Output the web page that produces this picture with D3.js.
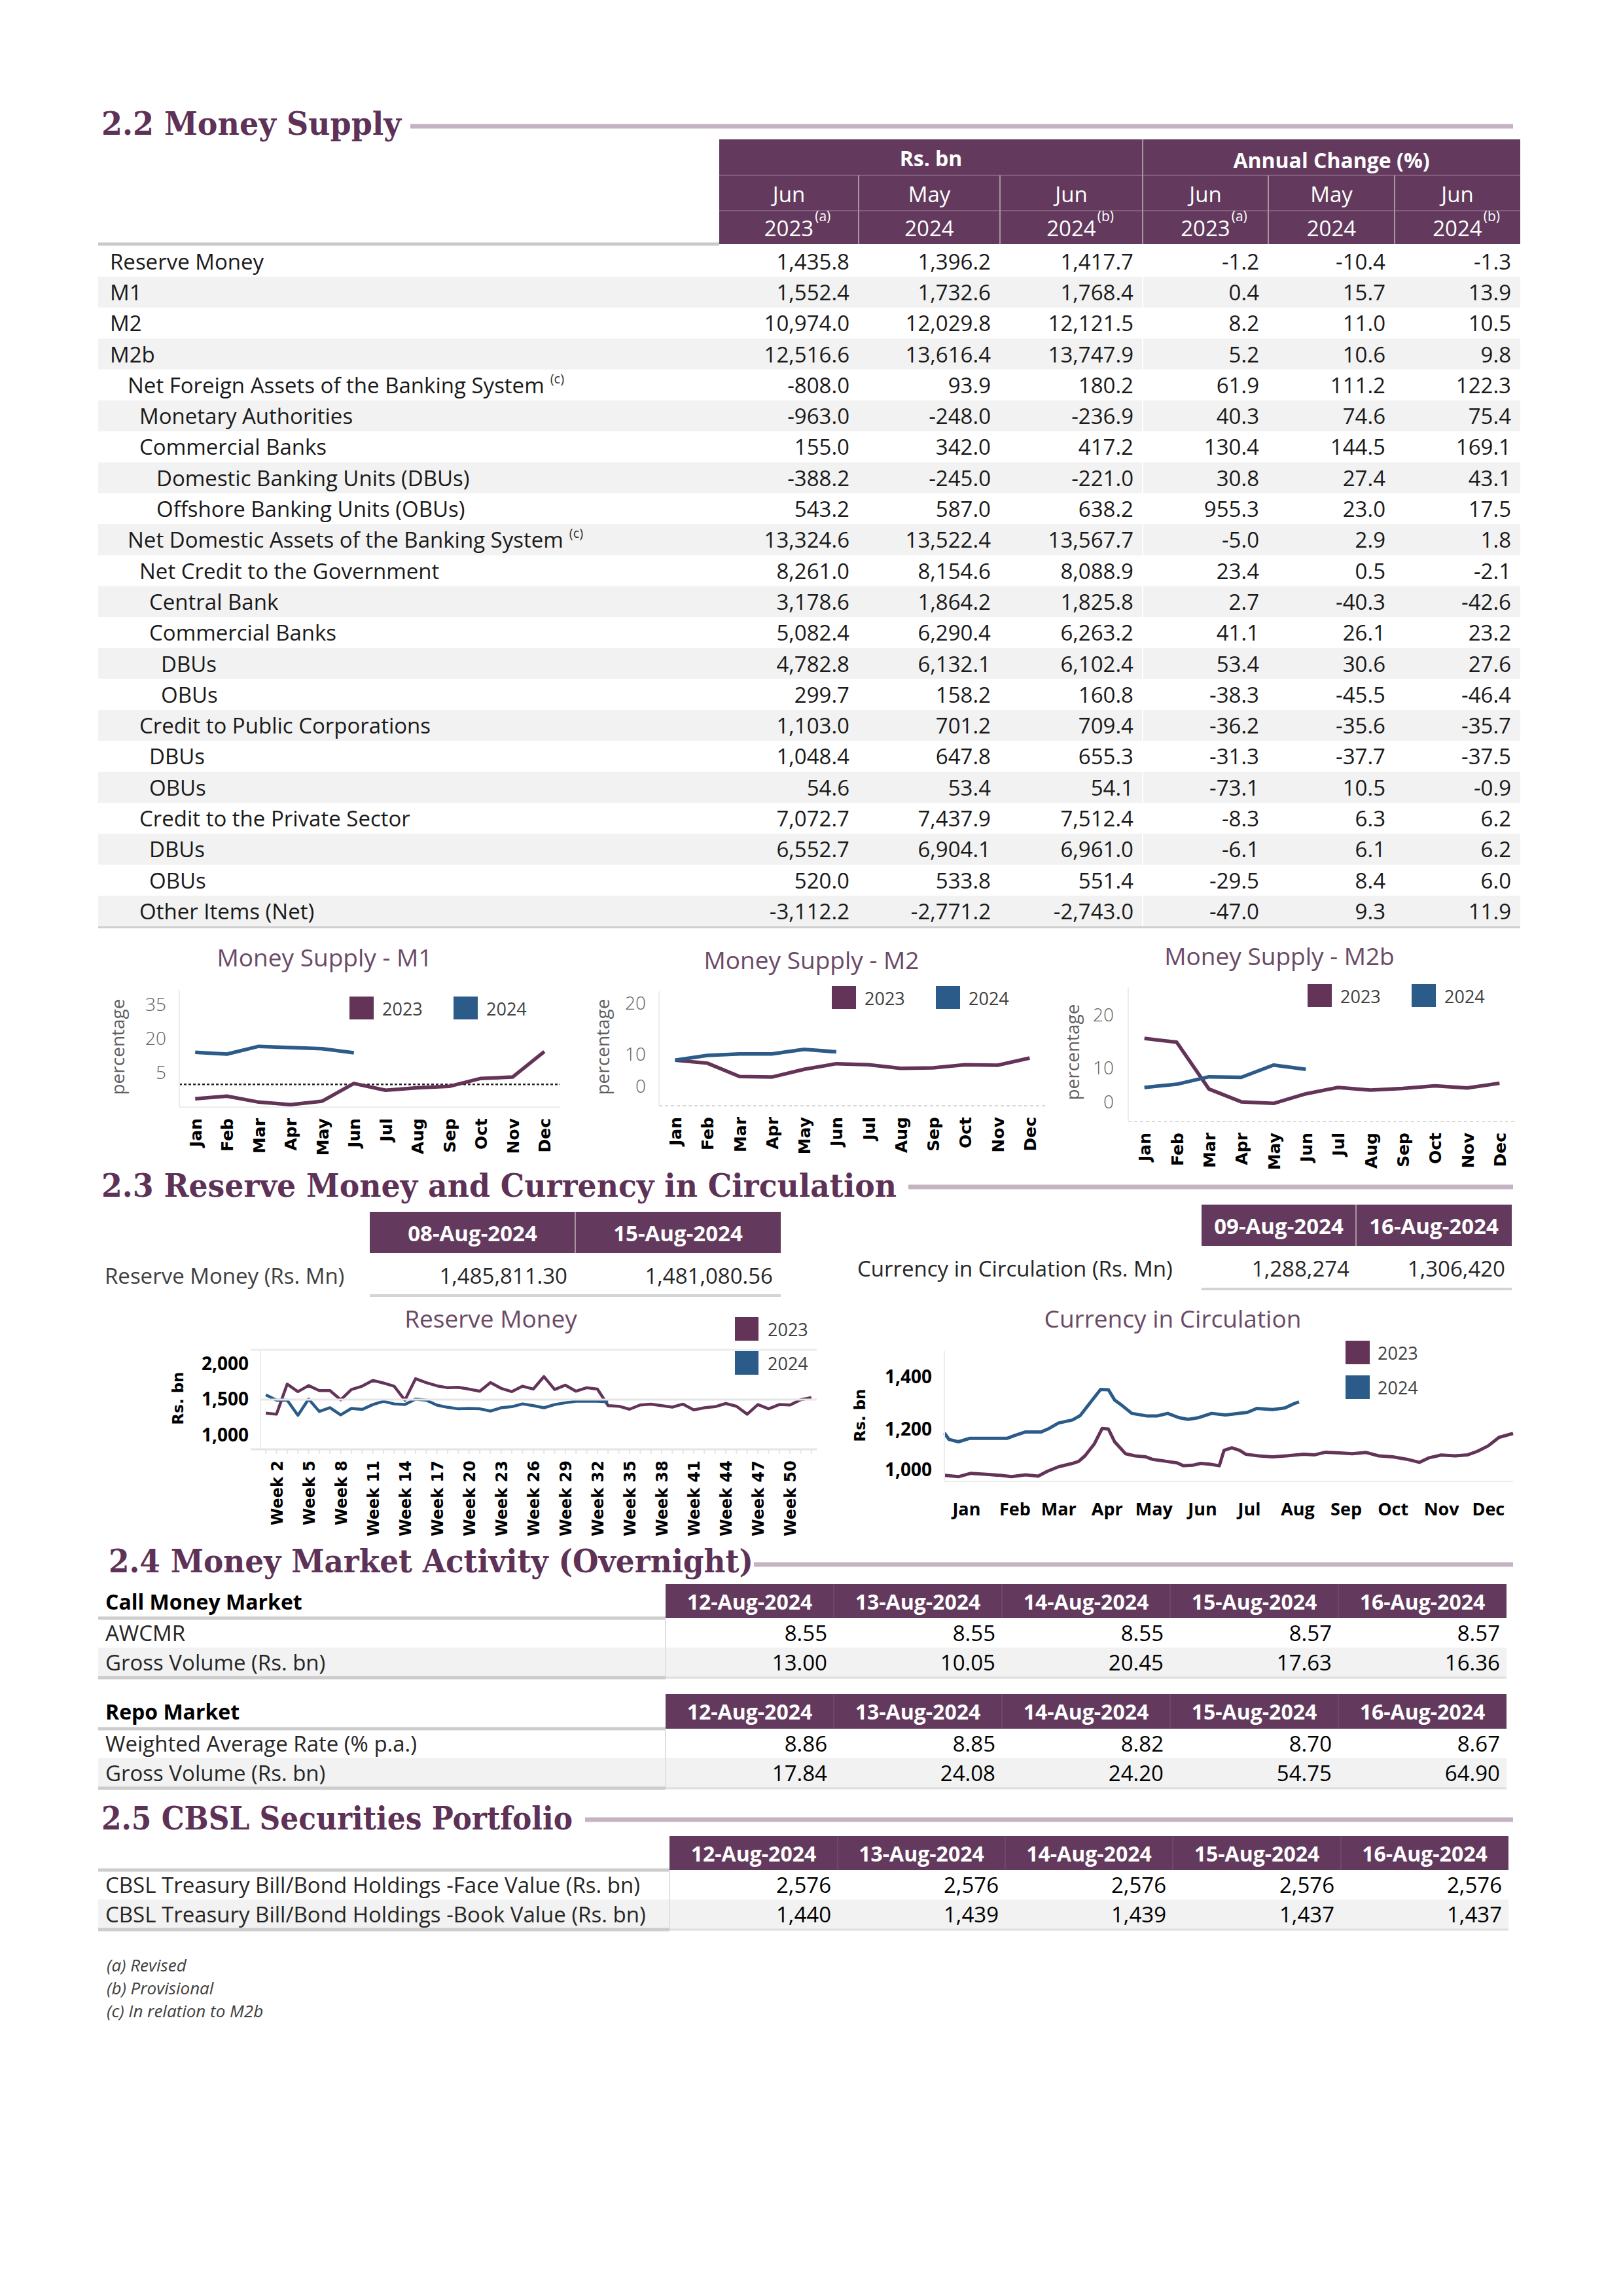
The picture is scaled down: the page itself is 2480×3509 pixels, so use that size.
<!DOCTYPE html>
<html><head><meta charset="utf-8">
<script src="https://cdn.jsdelivr.net/npm/d3@7"></script>
<style>body{margin:0;background:#fff}</style>
</head><body>
<script>
// ---------------- DATA ----------------
const monthNames = ["Jan","Feb","Mar","Apr","May","Jun","Jul","Aug","Sep","Oct","Nov","Dec"];

// 2.2 Money supply table
const msRows = ["Reserve Money","M1","M2","M2b","Net Foreign Assets of the Banking System","Monetary Authorities","Commercial Banks","Domestic Banking Units (DBUs)","Offshore Banking Units (OBUs)","Net Domestic Assets of the Banking System","Net Credit to the Government","Central Bank","Commercial Banks","DBUs","OBUs","Credit to Public Corporations","DBUs","OBUs","Credit to the Private Sector","DBUs","OBUs","Other Items (Net)"];
const msLevel = [0,0,0,0,1,2,2,4,4,1,2,3,3,5,5,2,3,3,2,3,3,2];
const msNoteC = [4,9];
const msJun23 = [1435.8,1552.4,10974.0,12516.6,-808.0,-963.0,155.0,-388.2,543.2,13324.6,8261.0,3178.6,5082.4,4782.8,299.7,1103.0,1048.4,54.6,7072.7,6552.7,520.0,-3112.2];
const msMay24 = [1396.2,1732.6,12029.8,13616.4,93.9,-248.0,342.0,-245.0,587.0,13522.4,8154.6,1864.2,6290.4,6132.1,158.2,701.2,647.8,53.4,7437.9,6904.1,533.8,-2771.2];
const msJun24 = [1417.7,1768.4,12121.5,13747.9,180.2,-236.9,417.2,-221.0,638.2,13567.7,8088.9,1825.8,6263.2,6102.4,160.8,709.4,655.3,54.1,7512.4,6961.0,551.4,-2743.0];
const acJun23 = [-1.2,0.4,8.2,5.2,61.9,40.3,130.4,30.8,955.3,-5.0,23.4,2.7,41.1,53.4,-38.3,-36.2,-31.3,-73.1,-8.3,-6.1,-29.5,-47.0];
const acMay24 = [-10.4,15.7,11.0,10.6,111.2,74.6,144.5,27.4,23.0,2.9,0.5,-40.3,26.1,30.6,-45.5,-35.6,-37.7,10.5,6.3,6.1,8.4,9.3];
const acJun24 = [-1.3,13.9,10.5,9.8,122.3,75.4,169.1,43.1,17.5,1.8,-2.1,-42.6,23.2,27.6,-46.4,-35.7,-37.5,-0.9,6.2,6.2,6.0,11.9];
const msColMonths = ["Jun","May","Jun","Jun","May","Jun"];
const msColYears = ["2023","2024","2024","2023","2024","2024"];
const msColNotes = ["(a)","","(b)","(a)","","(b)"];

// Money supply charts (annual growth, %)
const m1_2023 = [-6.3,-5.2,-7.8,-8.9,-7.4,0.4,-2.6,-1.5,-0.9,2.6,3.2,14.4];
const m1_2024 = [14.1,13.3,16.7,16.2,15.7,13.9];
const m2_2023 = [8.9,8.3,5.7,5.6,7.1,8.2,8.0,7.3,7.4,8.0,7.9,9.3];
const m2_2024 = [8.9,9.8,10.1,10.1,11.0,10.5];
const m2b_2023 = [15.6,14.9,6.1,3.7,3.4,5.2,6.4,5.9,6.2,6.7,6.3,7.2];
const m2b_2024 = [6.4,7.0,8.4,8.3,10.6,9.8];

// 2.3 tables
const rmDates = ["08-Aug-2024","15-Aug-2024"];
const rmValues = [1485811.30,1481080.56];
const cicDates = ["09-Aug-2024","16-Aug-2024"];
const cicValues = [1288274,1306420];

// Reserve money weekly (Rs. bn)
const weeks = d3.range(1,53).map(w => "Week " + w);
const rm2023 = [1309,1294,1718,1612,1697,1627,1627,1497,1642,1688,1770,1733,1688,1491,1794,1739,1694,1667,1673,1648,1618,1739,1658,1612,1688,1648,1824,1642,1703,1618,1667,1648,1415,1406,1364,1424,1436,1415,1394,1436,1355,1385,1400,1445,1406,1294,1430,1370,1430,1424,1497,1527];
const rm2024 = [1567,1491,1491,1279,1506,1333,1385,1285,1376,1361,1430,1476,1439,1430,1506,1491,1421,1391,1370,1376,1370,1339,1385,1400,1439,1415,1385,1430,1455,1476,1476,1476,1467];

// Currency in circulation (Rs. bn) by day of year
const cic23Day = [1,10,18,28,37,44,53,61,67,74,83,87,91,97,102,106,110,117,123,130,134,143,150,154,160,165,171,177,180,185,190,194,202,211,220,231,238,245,254,262,271,279,288,297,305,311,319,328,336,342,349,356,365];
const cic23Val = [1023,1018,1031,1027,1023,1018,1025,1020,1039,1056,1069,1077,1098,1144,1203,1201,1152,1106,1098,1094,1085,1077,1071,1060,1062,1069,1066,1060,1119,1129,1119,1104,1098,1094,1098,1104,1102,1112,1109,1106,1111,1098,1094,1085,1073,1090,1101,1098,1102,1115,1136,1169,1184];
const cic24Day = [1,4,10,17,28,41,46,53,63,68,74,83,88,95,101,106,110,114,121,131,137,144,151,157,164,172,181,188,195,201,211,219,225,228];
const cic24Val = [1186,1161,1152,1165,1165,1165,1176,1190,1190,1203,1224,1236,1253,1307,1353,1352,1312,1295,1261,1251,1251,1261,1245,1238,1245,1261,1255,1260,1265,1280,1276,1282,1299,1305];
const cicMonthDay = [15,46,74,105,135,166,196,227,258,288,319,349];

// 2.4 money market
const mmDates = ["12-Aug-2024","13-Aug-2024","14-Aug-2024","15-Aug-2024","16-Aug-2024"];
const awcmr = [8.55,8.55,8.55,8.57,8.57];
const callVolume = [13.00,10.05,20.45,17.63,16.36];
const repoRate = [8.86,8.85,8.82,8.70,8.67];
const repoVolume = [17.84,24.08,24.20,54.75,64.90];

// 2.5 securities
const secFace = [2576,2576,2576,2576,2576];
const secBook = [1440,1439,1439,1437,1437];

const footnotes = ["(a) Revised","(b) Provisional","(c) In relation to M2b"];

// ---------------- STYLE ----------------
const W = 2480, H = 3509;
const PURPLE = "#633a5d", C23 = "#643458", C24 = "#2b5b88";
const SANS = "'Open Sans','Noto Sans',sans-serif";
const SERIF = "'DejaVu Serif','Liberation Serif',serif";
const VERD = "'DejaVu Sans',sans-serif";
const TXT = "#1a1a1a";
const loc = d3.formatLocale({decimal:".",thousands:",",grouping:[3],currency:["",""],minus:"-"});
const f1 = loc.format(",.1f"), f2 = loc.format(",.2f"), f0 = loc.format(",.0f");

const svg = d3.select("body").append("svg").attr("width",W).attr("height",H);
svg.append("rect").attr("width",W).attr("height",H).attr("fill","#fff");

function txt(g, x, y, s, o = {}) {
  const t = g.append("text").attr("x",x).attr("y",y)
    .attr("font-family",o.ff || SANS).attr("font-size",o.fs || 34)
    .attr("font-weight",o.fw || "normal").attr("fill",o.fill || TXT)
    .attr("text-anchor",o.anchor || "start").attr("dominant-baseline",o.db || "central")
    .text(s);
  if (o.italic) t.attr("font-style","italic");
  if (o.len) t.attr("textLength",o.len).attr("lengthAdjust","spacingAndGlyphs");
  if (o.rot) t.attr("transform",`rotate(${o.rot},${x},${y})`);
  return t;
}
function hline(x1,x2,y,c,w){ svg.append("line").attr("x1",x1).attr("x2",x2).attr("y1",y).attr("y2",y).attr("stroke",c).attr("stroke-width",w); }
function vline(x,y1,y2,c,w){ svg.append("line").attr("x1",x).attr("x2",x).attr("y1",y1).attr("y2",y2).attr("stroke",c).attr("stroke-width",w); }

function heading(s, x, base, len, lx1, ly) {
  txt(svg, x, base, s, {ff:SERIF, fs:48, fw:"bold", fill:"#5e3157", db:"alphabetic", len:len});
  hline(lx1, 2312, ly, "#c4b3c2", 7);
}

// ---------------- 2.2 ----------------
heading("2.2 Money Supply", 155, 206, 458, 627, 193);
{
  const E = [1099,1312,1528,1746,1938,2131,2323];
  const top = 213, r1 = 268, r2 = 322, hb = 373, rowH = 47.3, left = 150;
  svg.append("rect").attr("x",E[0]).attr("y",top).attr("width",E[6]-E[0]).attr("height",hb-top).attr("fill",PURPLE);
  hline(E[0],E[6],r1,"#8c6b87",1.5);
  hline(E[0],E[6],r2,"#8c6b87",1.5);
  [1,2,4,5].forEach(i => vline(E[i],r1,hb,"#a9949f",2));
  vline(E[3],top,hb,"#a9949f",2);
  txt(svg,(E[0]+E[3])/2,241,"Rs. bn",{fs:32,fw:"bold",fill:"#fff",anchor:"middle"});
  txt(svg,(E[3]+E[6])/2,244,"Annual Change (%)",{fs:32,fw:"bold",fill:"#fff",anchor:"middle"});
  for (let c = 0; c < 6; c++) {
    const cx = (E[c]+E[c+1])/2;
    txt(svg,cx,296,msColMonths[c],{fs:33,fill:"#fff",anchor:"middle"});
    const yt = txt(svg,cx,348,msColYears[c],{fs:33,fill:"#fff",anchor:"middle"});
    if (msColNotes[c]) {
      const w = yt.node().getComputedTextLength();
      txt(svg,cx+w/2+2,330,msColNotes[c],{fs:21,fill:"#fff"});
    }
  }
  hline(left,E[0],hb,"#c9c9c9",5);
  const indent = {0:168,1:195,2:213,3:228,4:239,5:246};
  const cols = [msJun23,msMay24,msJun24,acJun23,acMay24,acJun24];
  msRows.forEach((lab,i) => {
    const y0 = hb + 2.5 + i*rowH, cy = y0 + rowH/2;
    if (i % 2) svg.append("rect").attr("x",left).attr("y",y0).attr("width",E[6]-left).attr("height",rowH).attr("fill","#f2f2f2");
    const t = txt(svg,indent[msLevel[i]],cy,lab,{fs:33});
    if (msNoteC.includes(i)) {
      const w = t.node().getComputedTextLength();
      txt(svg,indent[msLevel[i]]+w+9,cy-10,"(c)",{fs:20,fill:"#333"});
    }
    cols.forEach((arr,c) => txt(svg,E[c+1]-14,cy,f1(arr[i]),{fs:33,anchor:"end"}));
  });
  vline(E[3],hb+3,hb+3+22*rowH,"#fff",2);
  hline(left,E[6],hb+2.5+22*rowH+1,"#cfcfcf",3);
}

// ---------------- Money supply charts ----------------
function msChart(c) {
  const g = svg.append("g");
  const x = d3.scalePoint().domain(monthNames).range([c.l,c.r]).padding(0.5);
  const y = d3.scaleLinear().domain(c.dom).range([c.b,c.t]);
  vline(c.l,c.t,c.b,"#ececec",2);
  if (c.zero) {
    hline(c.l,c.r,c.b,"#ececec",2);
    g.append("line").attr("x1",c.l).attr("x2",c.r).attr("y1",y(0)).attr("y2",y(0))
      .attr("stroke","#222").attr("stroke-width",2.5).attr("stroke-dasharray","4,3");
  } else {
    g.append("line").attr("x1",c.l).attr("x2",c.r).attr("y1",c.b).attr("y2",c.b)
      .attr("stroke","#d9d9d9").attr("stroke-width",2).attr("stroke-dasharray","5,4");
  }
  const ya = g.append("g").attr("transform",`translate(${c.l},0)`)
    .call(d3.axisLeft(y).tickValues(c.ticks).tickSize(0).tickPadding(c.pad).tickFormat(d3.format("d")));
  ya.select(".domain").remove();
  ya.selectAll("text").attr("font-family",SANS).attr("font-size",28).attr("fill","#5f5f5f").attr("font-weight",300)
    .attr("dy",d => d === c.dom[0] ? "-0.3em" : "0.32em")
    .attr("transform",d => d === c.dom[0] ? "translate(0,-12)" : null);
  const xa = g.append("g").attr("transform",`translate(0,${c.b})`).call(d3.axisBottom(x).tickSize(0));
  xa.select(".domain").remove();
  xa.selectAll("text").attr("transform","rotate(-90)").attr("x",-c.lab).attr("y",0).attr("dy","0.36em")
    .attr("text-anchor","end").attr("font-family",VERD).attr("font-weight","bold").attr("font-size",25).attr("fill","#000");
  const line = d3.line().x((d,i) => x(monthNames[i])).y(d => y(d));
  g.append("path").datum(c.d23).attr("d",line).attr("fill","none").attr("stroke",C23).attr("stroke-width",5.5).attr("stroke-linejoin","round");
  g.append("path").datum(c.d24).attr("d",line).attr("fill","none").attr("stroke",C24).attr("stroke-width",5.5).attr("stroke-linejoin","round");
  txt(g,c.tx,c.ty,c.title,{fs:37,fill:"#6a4a66",anchor:"middle"});
  txt(g,c.ylx,c.yly,"percentage",{fs:28,fill:"#5f5f5f",anchor:"middle",rot:-90});
  [[C23,"2023",c.lg[0]],[C24,"2024",c.lg[1]]].forEach(([col,s,lx]) => {
    g.append("rect").attr("x",lx).attr("y",c.lgy).attr("width",37).attr("height",35).attr("fill",col);
    txt(g,lx+50,c.lgy+18,s,{fs:27,fill:"#404040"});
  });
}
msChart({title:"Money Supply - M1",tx:496,ty:1462,l:274,r:856,t:1513,b:1692,dom:[-10,41.5],ticks:[5,20,35],pad:20,zero:true,
  d23:m1_2023,d24:m1_2024,lab:17,ylx:179,yly:1600,lg:[534,693],lgy:1523});
msChart({title:"Money Supply - M2",tx:1240,ty:1466,l:1007,r:1598,t:1515,b:1690,dom:[0,22.3],ticks:[0,10,20],pad:20,zero:false,
  d23:m2_2023,d24:m2_2024,lab:17,ylx:920,yly:1600,lg:[1271,1430],lgy:1507});
msChart({title:"Money Supply - M2b",tx:1955,ty:1460,l:1724,r:2316,t:1509,b:1714,dom:[0,25.2],ticks:[0,10,20],pad:22,zero:false,
  d23:m2b_2023,d24:m2b_2024,lab:17,ylx:1638,yly:1608,lg:[1998,2157],lgy:1504});

// ---------------- 2.3 ----------------
heading("2.3 Reserve Money and Currency in Circulation", 155, 1829, 1215, 1388, 1814);
{
  const E = [565,879,1193];
  svg.append("rect").attr("x",E[0]).attr("y",1852).attr("width",E[2]-E[0]).attr("height",63).attr("fill",PURPLE);
  vline(E[1],1852,1915,"#a9949f",2);
  rmDates.forEach((d,i) => txt(svg,(E[i]+E[i+1])/2,1884,d,{fs:33,fw:"bold",fill:"#fff",anchor:"middle"}));
  txt(svg,160,1949,"Reserve Money (Rs. Mn)",{fs:33,fill:"#404040"});
  rmValues.forEach((v,i) => txt(svg,E[i+1]-12,1949,f2(v),{fs:33,fill:"#262626",anchor:"end"}));
  hline(E[0],E[2],1980,"#d4d4d4",4);
  const F = [1836,2072,2310];
  svg.append("rect").attr("x",F[0]).attr("y",1841).attr("width",F[2]-F[0]).attr("height",63).attr("fill",PURPLE);
  vline(F[1],1841,1904,"#a9949f",2);
  cicDates.forEach((d,i) => txt(svg,(F[i]+F[i+1])/2,1873,d,{fs:33,fw:"bold",fill:"#fff",anchor:"middle"}));
  txt(svg,1310,1938,"Currency in Circulation (Rs. Mn)",{fs:33,fill:"#262626"});
  cicValues.forEach((v,i) => txt(svg,F[i+1]-10,1938,f0(v),{fs:33,fill:"#262626",anchor:"end"}));
  hline(F[0],F[2],1970,"#d4d4d4",4);
}

// Reserve money chart
{
  const g = svg.append("g");
  const l = 398, r = 1248, t = 2063, b = 2215;
  const x = d3.scalePoint().domain(weeks).range([l,r]).padding(0.5);
  const y = d3.scaleLinear().domain([800,2200]).range([b,t]);
  hline(l-15,r,t,"#ececec",3);
  hline(l,r,y(1500),"#e6e6e6",3);
  vline(l,t,b,"#ececec",2);
  hline(l-15,r,b,"#e4e4e4",3);
  weeks.forEach(w => vline(x(w),b,b+7,"#e6e6e6",2));
  const ya = g.append("g").attr("transform",`translate(${l},0)`)
    .call(d3.axisLeft(y).tickValues([1000,1500,2000]).tickSize(0).tickPadding(18).tickFormat(d3.format(",")));
  ya.select(".domain").remove();
  ya.selectAll("text").attr("font-family",SANS).attr("font-weight","bold").attr("font-size",28).attr("fill","#000");
  const xa = g.append("g").attr("transform",`translate(0,${b})`)
    .call(d3.axisBottom(x).tickSize(0).tickValues(weeks.filter((d,i) => i % 3 === 1)));
  xa.select(".domain").remove();
  xa.selectAll("text").attr("transform","rotate(-90)").attr("x",-17).attr("y",0).attr("dy","0.36em")
    .attr("text-anchor","end").attr("font-family",VERD).attr("font-weight","bold").attr("font-size",24).attr("fill","#000");
  const line = d3.line().x((d,i) => x(weeks[i])).y(d => y(d));
  g.append("path").datum(rm2023).attr("d",line).attr("fill","none").attr("stroke",C23).attr("stroke-width",4.5).attr("stroke-linejoin","round");
  g.append("path").datum(rm2024).attr("d",line).attr("fill","none").attr("stroke",C24).attr("stroke-width",4.5).attr("stroke-linejoin","round");
  txt(g,750,2014,"Reserve Money",{fs:37,fill:"#6a4a66",anchor:"middle"});
  txt(g,272,2137,"Rs. bn",{ff:VERD,fs:23,fw:"bold",fill:"#000",anchor:"middle",rot:-90});
  [[C23,"2023",2013],[C24,"2024",2065]].forEach(([col,s,ly]) => {
    g.append("rect").attr("x",1123).attr("y",ly).attr("width",36).attr("height",36).attr("fill",col);
    txt(g,1173,ly+18,s,{fs:27,fill:"#404040"});
  });
}

// Currency in circulation chart
{
  const g = svg.append("g");
  const l = 1443, r = 2312, t = 2065, b = 2264;
  const x = d3.scaleLinear().domain([1,365]).range([l,r]);
  const y = d3.scaleLinear().domain([1000,1500]).range([b,t]);
  vline(l,t,b,"#ececec",2);
  hline(l,r,b,"#ececec",2);
  const ya = g.append("g").attr("transform",`translate(${l},0)`)
    .call(d3.axisLeft(y).tickValues([1000,1200,1400]).tickSize(0).tickPadding(19).tickFormat(d3.format(",")));
  ya.select(".domain").remove();
  ya.selectAll("text").attr("font-family",SANS).attr("font-weight","bold").attr("font-size",28).attr("fill","#000")
    .attr("transform",d => d === 1000 ? "translate(0,-17)" : null);
  const xa = g.append("g").attr("transform",`translate(0,${b})`)
    .call(d3.axisBottom(x).tickValues(cicMonthDay).tickSize(0).tickFormat((d,i) => monthNames[i]));
  xa.select(".domain").remove();
  xa.selectAll("text").attr("y",43).attr("dy","0.35em").attr("font-family",SANS).attr("font-weight","bold").attr("font-size",27).attr("fill","#000");
  const line = d3.line().x(d => x(d[0])).y(d => y(d[1]));
  g.append("path").datum(d3.zip(cic23Day,cic23Val)).attr("d",line).attr("fill","none").attr("stroke",C23).attr("stroke-width",5).attr("stroke-linejoin","round");
  g.append("path").datum(d3.zip(cic24Day,cic24Val)).attr("d",line).attr("fill","none").attr("stroke",C24).attr("stroke-width",5).attr("stroke-linejoin","round");
  txt(g,1792,2014,"Currency in Circulation",{fs:37,fill:"#6a4a66",anchor:"middle"});
  txt(g,1314,2163,"Rs. bn",{ff:VERD,fs:23,fw:"bold",fill:"#000",anchor:"middle",rot:-90});
  [[C23,"2023",2049],[C24,"2024",2102]].forEach(([col,s,ly]) => {
    g.append("rect").attr("x",2056).attr("y",ly).attr("width",37).attr("height",36).attr("fill",col);
    txt(g,2105,ly+18,s,{fs:27,fill:"#404040"});
  });
}

// ---------------- 2.4 ----------------
heading("2.4 Money Market Activity (Overnight)", 166, 2403, 985, 1152, 2391);
function dateTable(o) {
  const E = o.E;
  svg.append("rect").attr("x",E[0]).attr("y",o.ht).attr("width",E[5]-E[0]).attr("height",o.hb-o.ht).attr("fill",PURPLE);
  for (let i = 1; i < 5; i++) vline(E[i],o.ht,o.hb,"#6e4868",2);
  mmDates.forEach((d,i) => txt(svg,(E[i]+E[i+1])/2,(o.ht+o.hb)/2,d,{fs:32,fw:"bold",fill:"#fff",anchor:"middle"}));
  if (o.title) txt(svg,161,(o.ht+o.hb)/2,o.title,{fs:32,fw:"bold",fill:"#000"});
  hline(150,E[0],o.hb,"#cccccc",5);
  const rh = 45;
  o.rows.forEach((row,j) => {
    const y0 = o.hb + j*rh;
    if (j % 2) svg.append("rect").attr("x",150).attr("y",y0).attr("width",E[5]-150).attr("height",rh).attr("fill","#f2f2f2");
    txt(svg,161,y0+rh/2,row[0],{fs:33,fill:"#262626"});
    row[1].forEach((v,i) => txt(svg,E[i+1]-10,y0+rh/2,o.fmt(v),{fs:33,fill:"#000",anchor:"end"}));
  });
  const yb = o.hb + o.rows.length*rh;
  vline(E[0],o.hb,yb,"#e0e0e0",2);
  hline(150,E[0],yb+1,"#cccccc",5);
  hline(E[0],E[5],yb+1,"#dedede",3);
}
dateTable({E:[1017,1274,1531,1788,2045,2302],ht:2421,hb:2473,title:"Call Money Market",fmt:f2,
  rows:[["AWCMR",awcmr],["Gross Volume (Rs. bn)",callVolume]]});
dateTable({E:[1017,1274,1531,1788,2045,2302],ht:2589,hb:2642,title:"Repo Market",fmt:f2,
  rows:[["Weighted Average Rate (% p.a.)",repoRate],["Gross Volume (Rs. bn)",repoVolume]]});

// ---------------- 2.5 ----------------
heading("2.5 CBSL Securities Portfolio", 155, 2796, 720, 894, 2781);
dateTable({E:[1023,1280,1536,1792,2049,2305],ht:2806,hb:2858,title:"",fmt:f0,
  rows:[["CBSL Treasury Bill/Bond Holdings -Face Value (Rs. bn)",secFace],["CBSL Treasury Bill/Bond Holdings -Book Value (Rs. bn)",secBook]]});

footnotes.forEach((s,i) => txt(svg,163,3003+i*35,s,{fs:26,italic:true,fill:"#404040"}));
</script>
</body></html>
